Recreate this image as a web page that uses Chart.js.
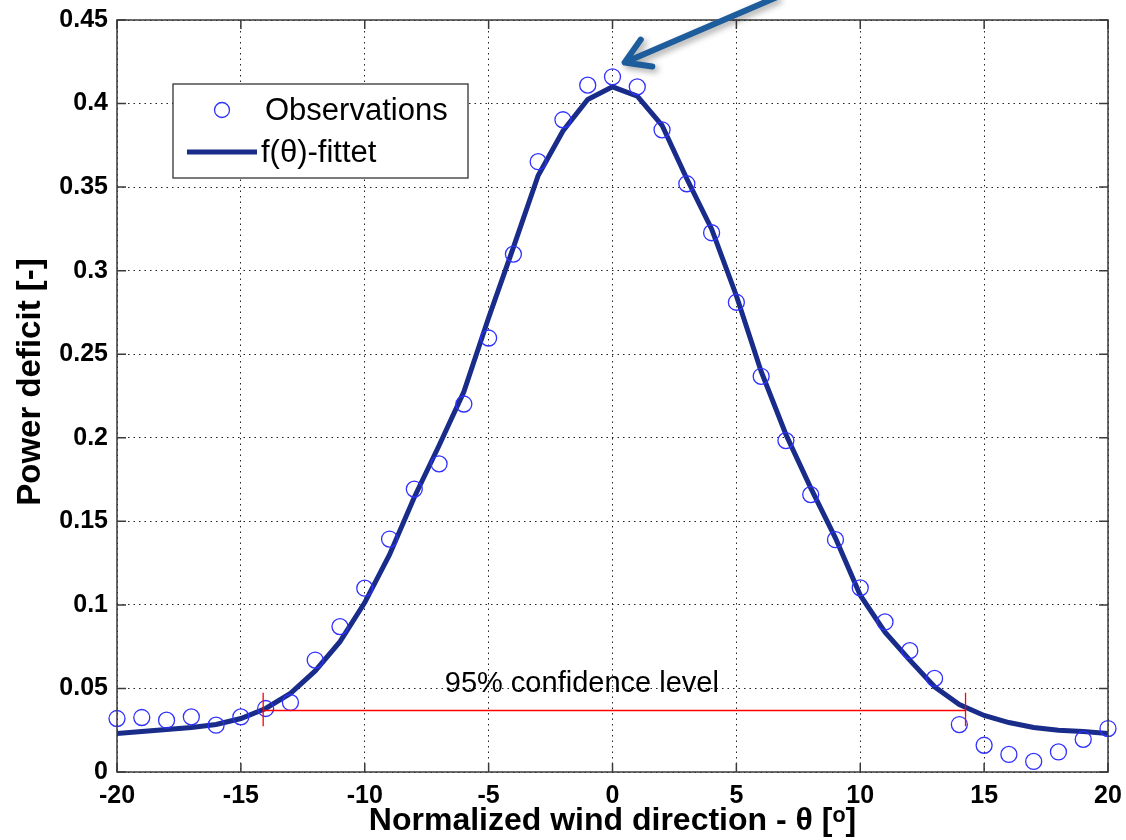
<!DOCTYPE html>
<html>
<head>
<meta charset="utf-8">
<script src="https://cdn.jsdelivr.net/npm/chart.js@4.4.1/dist/chart.umd.min.js"></script>
<style>
  html, body { margin: 0; padding: 0; background: #fff; }
  #wrap { width: 1126px; height: 840px; }
</style>
</head>
<body>
<div id="wrap"><canvas id="chart"></canvas></div>
<script>
// ── data ──
const thetaDeg = [-20, -19, -18, -17, -16, -15, -14, -13, -12, -11, -10, -9, -8, -7, -6, -5, -4, -3, -2, -1,
  0, 1, 2, 3, 4, 5, 6, 7, 8, 9, 10, 11, 12, 13, 14, 15, 16, 17, 18, 19, 20];

const observed = [0.032, 0.0326, 0.031, 0.033, 0.028, 0.033, 0.038, 0.0416, 0.067, 0.087, 0.110, 0.1394, 0.1693, 0.1844, 0.2202, 0.2597, 0.3099, 0.3652, 0.3903, 0.411,
  0.416, 0.410, 0.3843, 0.352, 0.3227, 0.2811, 0.2368, 0.1983, 0.166, 0.139, 0.1102, 0.0898, 0.0726, 0.056, 0.0284, 0.016, 0.0105, 0.0063, 0.012, 0.0195, 0.026];

const fitted = [0.023, 0.0242, 0.0254, 0.0266, 0.0284, 0.032, 0.038, 0.047, 0.0605, 0.078, 0.1014, 0.130, 0.1644, 0.1954, 0.2275, 0.2718, 0.3139, 0.357, 0.3836, 0.4024,
  0.410, 0.4045, 0.387, 0.355, 0.325, 0.285, 0.2397, 0.202, 0.170, 0.140, 0.1058, 0.0837, 0.067, 0.051, 0.0404, 0.0338, 0.0296, 0.0266, 0.025, 0.0242, 0.023];

// 95% confidence band marker
const confLevel = 0.0374;
const confFrom = -14.1;
const confTo = 14.25;
const confTickHalf = 0.01;
const confLabel = '95% confidence level';
const confLabelAt = { x: -6.77, y: 0.0524 };

// arrow pointing at the peak
const arrowTip = { x: 0.49, y: 0.4246 };
const arrowTail = { x: 6.6, y: 0.4635 };

const xRange = { min: -20, max: 20, step: 5 };
const yRange = { min: 0, max: 0.45, step: 0.05 };

const xTitle = 'Normalized wind direction - θ [ᵒ]';
const yTitle = 'Power deficit [-]';

const OBS_COLOR = '#3030ff';
const FIT_COLOR = '#1a2c8a';
const FONT = 'Arial, "Liberation Sans", sans-serif';

// ── plugin: MATLAB style box, inward ticks, legend, annotations ──
const matlabDecor = {
  id: 'matlabDecor',
  afterDraw(chart) {
    const { ctx, chartArea: a, scales: { x, y } } = chart;
    ctx.save();
    ctx.setLineDash([]);

    // red confidence line
    const cy = Math.round(y.getPixelForValue(confLevel)) + 0.5;
    const cx0 = x.getPixelForValue(confFrom), cx1 = x.getPixelForValue(confTo);
    const ch0 = y.getPixelForValue(confLevel + confTickHalf), ch1 = y.getPixelForValue(confLevel - confTickHalf);
    ctx.strokeStyle = '#ff0000';
    ctx.lineWidth = 1.3;
    ctx.beginPath();
    ctx.moveTo(cx0, cy); ctx.lineTo(cx1, cy);
    ctx.moveTo(cx0, ch0); ctx.lineTo(cx0, ch1);
    ctx.moveTo(cx1, ch0); ctx.lineTo(cx1, ch1);
    ctx.stroke();

    ctx.fillStyle = '#000';
    ctx.font = '29px ' + FONT;
    ctx.textAlign = 'left';
    ctx.textBaseline = 'middle';
    ctx.fillText(confLabel, x.getPixelForValue(confLabelAt.x), y.getPixelForValue(confLabelAt.y));

    // frame + inward ticks
    ctx.strokeStyle = '#3a3a3a';
    ctx.lineWidth = 1.5;
    ctx.strokeRect(a.left, a.top, a.right - a.left, a.bottom - a.top);
    const tl = 9;
    ctx.beginPath();
    x.ticks.forEach(t => {
      const px = x.getPixelForValue(t.value);
      ctx.moveTo(px, a.bottom); ctx.lineTo(px, a.bottom - tl);
      ctx.moveTo(px, a.top); ctx.lineTo(px, a.top + tl);
    });
    y.ticks.forEach(t => {
      const py = y.getPixelForValue(t.value);
      ctx.moveTo(a.left, py); ctx.lineTo(a.left + tl, py);
      ctx.moveTo(a.right, py); ctx.lineTo(a.right - tl, py);
    });
    ctx.stroke();

    // y axis title
    ctx.save();
    ctx.translate(31, (a.top + a.bottom) / 2 - 14);
    ctx.rotate(-Math.PI / 2);
    ctx.font = 'bold 33px ' + FONT;
    ctx.textAlign = 'center';
    ctx.textBaseline = 'middle';
    ctx.fillStyle = '#000';
    ctx.fillText(yTitle, 0, 0);
    ctx.restore();

    // legend box
    const lx = a.left + 56, ly = a.top + 64, lw = 295, lh = 94;
    ctx.fillStyle = '#fff';
    ctx.fillRect(lx, ly, lw, lh);
    ctx.strokeStyle = '#333';
    ctx.lineWidth = 1.3;
    ctx.strokeRect(lx, ly, lw, lh);

    ctx.strokeStyle = OBS_COLOR;
    ctx.lineWidth = 1.3;
    ctx.beginPath();
    ctx.arc(lx + 49, ly + 26, 7.5, 0, Math.PI * 2);
    ctx.stroke();

    ctx.strokeStyle = FIT_COLOR;
    ctx.lineWidth = 5;
    ctx.beginPath();
    ctx.moveTo(lx + 14, ly + 68); ctx.lineTo(lx + 84, ly + 68);
    ctx.stroke();

    ctx.fillStyle = '#000';
    ctx.font = '31px ' + FONT;
    ctx.textBaseline = 'middle';
    ctx.fillText('Observations', lx + 92, ly + 27);
    ctx.fillText('f(θ)-fittet', lx + 88, ly + 69);

    // arrow with shadow
    const tx = x.getPixelForValue(arrowTip.x), ty = y.getPixelForValue(arrowTip.y);
    const sx = x.getPixelForValue(arrowTail.x), sy = y.getPixelForValue(arrowTail.y);
    const ang = Math.atan2(ty - sy, tx - sx);
    const head = 28;
    ctx.shadowColor = 'rgba(0,0,0,0.35)';
    ctx.shadowBlur = 6;
    ctx.shadowOffsetX = 3;
    ctx.shadowOffsetY = 3;
    ctx.strokeStyle = '#1d5d9b';
    ctx.lineWidth = 6;
    ctx.lineCap = 'round';
    ctx.lineJoin = 'round';
    ctx.beginPath();
    ctx.moveTo(sx, sy); ctx.lineTo(tx, ty);
    ctx.moveTo(tx + head * Math.cos(ang + Math.PI - 0.55), ty + head * Math.sin(ang + Math.PI - 0.55));
    ctx.lineTo(tx, ty);
    ctx.lineTo(tx + head * Math.cos(ang + Math.PI + 0.55), ty + head * Math.sin(ang + Math.PI + 0.55));
    ctx.stroke();

    ctx.restore();
  }
};

new Chart(document.getElementById('chart'), {
  type: 'scatter',
  data: {
    datasets: [
      {
        label: 'Observations',
        data: thetaDeg.map((t, i) => ({ x: t, y: observed[i] })),
        showLine: false,
        clip: false,
        pointStyle: 'circle',
        pointRadius: 8,
        pointBorderWidth: 1.3,
        pointBorderColor: OBS_COLOR,
        pointBackgroundColor: 'rgba(0,0,0,0)',
        order: 1,
      },
      {
        label: 'f(θ)-fittet',
        data: thetaDeg.map((t, i) => ({ x: t, y: fitted[i] })),
        showLine: true,
        borderColor: FIT_COLOR,
        borderWidth: 5,
        pointRadius: 0,
        tension: 0,
        order: 2,
      },
    ],
  },
  options: {
    responsive: true,
    maintainAspectRatio: false,
    animation: false,
    layout: { padding: { top: 20, right: 18, left: 0, bottom: 0 } },
    plugins: {
      legend: { display: false },
      tooltip: { enabled: false },
    },
    scales: {
      x: {
        type: 'linear',
        min: xRange.min,
        max: xRange.max,
        afterFit: s => { s.height = 68; s.paddingLeft = 0; s.paddingRight = 0; },
        grid: { color: '#222', lineWidth: 1, drawTicks: false },
        border: { display: false, dash: [1.5, 4] },
        ticks: {
          stepSize: xRange.step,
          color: '#000',
          padding: 9,
          font: { family: FONT, size: 25, weight: 'bold' },
        },
        title: {
          display: true,
          text: xTitle,
          color: '#000',
          padding: { top: 0, bottom: 0 },
          font: { family: FONT, size: 32, weight: 'bold' },
        },
      },
      y: {
        min: yRange.min,
        max: yRange.max,
        afterFit: s => { s.width = 117; s.paddingTop = 0; s.paddingBottom = 0; },
        grid: { color: '#222', lineWidth: 1, drawTicks: false },
        border: { display: false, dash: [1.5, 4] },
        ticks: {
          stepSize: yRange.step,
          color: '#000',
          padding: 9,
          font: { family: FONT, size: 25, weight: 'bold' },
          callback: v => String(Number(v.toFixed(2))),
        },
        title: { display: false },
      },
    },
  },
  plugins: [matlabDecor],
});
</script>
</body>
</html>
